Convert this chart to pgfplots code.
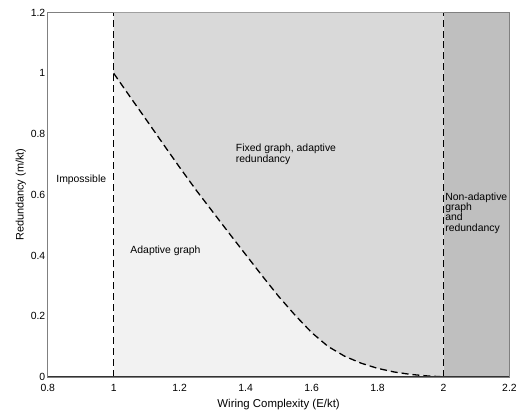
\documentclass[border=0pt]{standalone}
\usepackage{pgfplots}
\pgfplotsset{compat=1.18}
\usepackage{fontspec}
\setmainfont{Liberation Sans}
\definecolor{lightg}{HTML}{F2F2F2}
\definecolor{midg}{HTML}{D9D9D9}
\definecolor{darkg}{HTML}{BFBFBF}
\definecolor{boxg}{HTML}{808080}
\pgfplotstableread{
x y
1.00 1.000
1.05 0.922
1.10 0.845
1.15 0.767
1.20 0.690
1.25 0.615
1.30 0.544
1.35 0.473
1.40 0.403
1.45 0.333
1.50 0.265
1.55 0.203
1.60 0.146
1.65 0.100
1.70 0.068
1.75 0.045
1.80 0.028
1.85 0.016
1.90 0.008
1.95 0.003
2.00 0.000
}\curvedata
\pgfplotstableread{
x y
1.00 1.200
1.00 1.000
1.05 0.922
1.10 0.845
1.15 0.767
1.20 0.690
1.25 0.615
1.30 0.544
1.35 0.473
1.40 0.403
1.45 0.333
1.50 0.265
1.55 0.203
1.60 0.146
1.65 0.100
1.70 0.068
1.75 0.045
1.80 0.028
1.85 0.016
1.90 0.008
1.95 0.003
2.00 0.000
2.00 1.200
}\midregion
\begin{document}
\begin{tikzpicture}
\begin{axis}[
  scale only axis,
  width=464bp, height=366bp,
  xmin=0.8, xmax=2.2, ymin=0, ymax=1.2,
  xtick={0.8,1,...,2.2}, ytick={0,0.2,...,1.2},
  xticklabels={0.8,1,1.2,1.4,1.6,1.8,2,2.2},
  yticklabels={0,0.2,0.4,0.6,0.8,1,1.2},
  major tick length=0pt,
  axis line style={draw=boxg, line width=0.6bp},
  tick label style={font=\fontsize{10.5}{12}\selectfont},
  xticklabel style={yshift=-4bp},
  yticklabel style={xshift=1bp},
  xlabel style={font=\fontsize{11.5}{13}\selectfont, yshift=-1bp},
  ylabel style={font=\fontsize{11}{13}\selectfont, yshift=-2bp},
  xlabel={Wiring Complexity (E/kt)},
  ylabel={Redundancy (m/kt)},
  clip=true,
]
% background regions
\addplot[draw=none, fill=lightg] coordinates {(1,0) (2,0) (2,1.2) (1,1.2)} -- cycle;
\addplot[draw=none, fill=darkg] coordinates {(2,0) (2.2,0) (2.2,1.2) (2,1.2)} -- cycle;
\addplot[draw=none, fill=midg] table {\midregion} -- cycle;
% boundaries
\addplot[black, line width=1.3bp, dash pattern=on 7bp off 4bp] table {\curvedata};
\addplot[black, line width=1.3bp, dash pattern=on 7bp off 4bp] coordinates {(1,0) (1,1.2)};
\addplot[black, line width=1.3bp, dash pattern=on 7bp off 4bp] coordinates {(2,0) (2,1.2)};
\draw[black!80, line width=1.4bp] (rel axis cs:0,0) -- (rel axis cs:1,0);
% labels
\node[font=\fontsize{10.5}{12}\selectfont] at (axis cs:0.9015,0.649) {Impossible};
\node[font=\fontsize{10.5}{12}\selectfont] at (axis cs:1.157,0.416) {Adaptive graph};
\node[font=\fontsize{10.5}{11}\selectfont, anchor=west, align=left, inner sep=0pt] at (axis cs:1.37,0.733) {Fixed graph, adaptive\\redundancy};
\node[font=\fontsize{10.5}{10.5}\selectfont, anchor=west, align=left, inner sep=0pt] at (axis cs:2.005,0.54) {Non-adaptive\\graph\\and\\redundancy};
\end{axis}
\path ([xshift=-48bp,yshift=-31bp]current axis.south west) ([xshift=8bp,yshift=12.7bp]current axis.north east);
\end{tikzpicture}
\end{document}
